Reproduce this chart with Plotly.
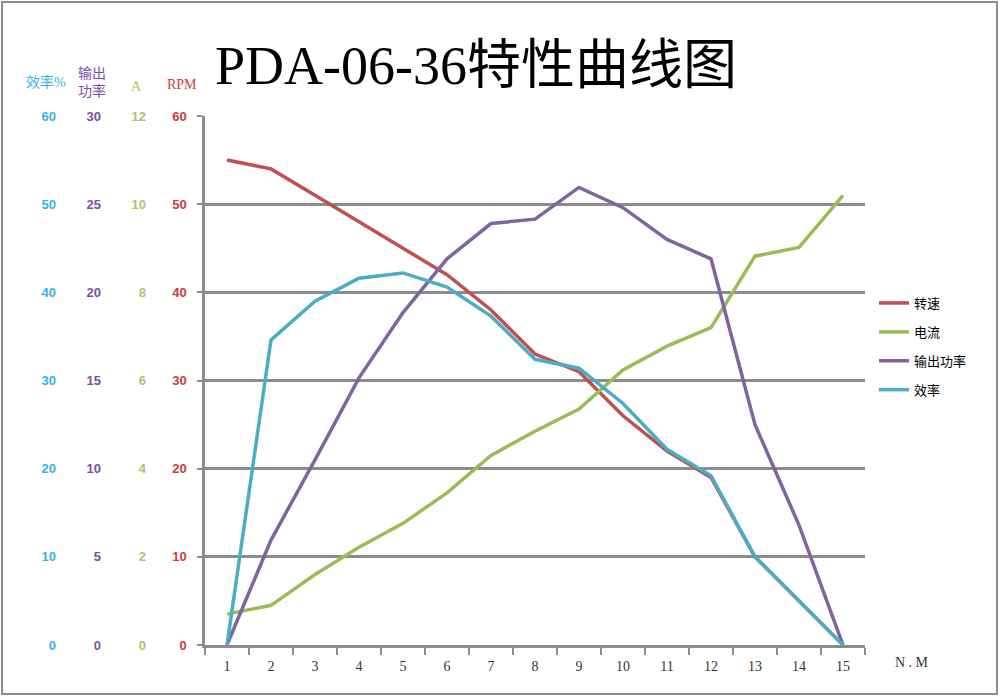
import plotly.graph_objects as go

torque = [str(i) for i in range(1, 16)]
rpm = [55.0, 54.0, 51.0, 48.0, 45.0, 42.0, 38.0, 33.0, 31.0, 26.0, 22.0, 19.0, 10.0, 5.0, 0.0]
current = [0.7, 0.9, 1.6, 2.22, 2.76, 3.45, 4.3, 4.85, 5.35, 6.24, 6.78, 7.2, 8.82, 9.02, 10.2]
power = [0.0, 5.95, 10.5, 15.15, 18.85, 21.9, 23.9, 24.15, 25.95, 24.8, 23.0, 21.9, 12.5, 6.8, 0.0]
efficiency = [0.0, 34.6, 39.0, 41.6, 42.2, 40.6, 37.3, 32.4, 31.4, 27.4, 22.2, 19.2, 10.0, 5.0, 0.0]

series_names = ["转速", "电流", "输出功率", "效率"]
line_colors = ["#C0504D", "#9BBB59", "#8064A2", "#4BACC6"]
label_colors = ["#D03A3A", "#A8C66A", "#7E4EA8", "#38B2E4"]
axis_titles = ["RPM", "A", "输出<br>功率", "效率%"]

GRID = "#8C8C8C"

fig = go.Figure()
for name, vals, col, ax, lg in zip(series_names, [rpm, current, power, efficiency], line_colors,
                                   ["y", "y2", "y3", "y4"], ["a", "b", "c", "d"]):
    fig.add_trace(go.Scatter(x=torque, y=vals, name=name, mode="lines", yaxis=ax,
                             legendgroup=lg,
                             line=dict(color=col, width=3.5)))

tickfont_base = dict(family="Liberation Sans", size=13, weight="bold")

fig.update_layout(
    width=1000, height=696,
    margin=dict(l=0, r=0, t=0, b=0),
    paper_bgcolor="white", plot_bgcolor="white",
    xaxis=dict(type="category", domain=[0.205, 0.865], tickson="boundaries",
               range=[-0.5, 14.5],
               ticks="outside", ticklen=7, tickwidth=2, tickcolor=GRID,
               showline=True, linecolor=GRID, linewidth=2.5, showgrid=False,
               ticklabelstandoff=6,
               tickfont=dict(family="Liberation Serif", size=14, color="#333"),
               automargin=False),
    yaxis=dict(range=[0, 60], dtick=10, domain=[51/696, 580/696],
               showgrid=True, gridcolor=GRID, gridwidth=2.5,
               showline=True, linecolor=GRID, linewidth=2.5, zeroline=False,
               ticks="outside", ticklen=5, tickwidth=2, tickcolor=GRID,
               ticklabelstandoff=8,
               tickfont=dict(tickfont_base, color=label_colors[0]), automargin=False),
    yaxis2=dict(range=[0, 12], dtick=2, overlaying="y", anchor="free", position=0.146,
                showgrid=False, showline=False, zeroline=False, ticks="",
                tickfont=dict(tickfont_base, color=label_colors[1]), automargin=False),
    yaxis3=dict(range=[0, 30], dtick=5, overlaying="y", anchor="free", position=0.101,
                showgrid=False, showline=False, zeroline=False, ticks="",
                tickfont=dict(tickfont_base, color=label_colors[2]), automargin=False),
    yaxis4=dict(range=[0, 60], dtick=10, overlaying="y", anchor="free", position=0.056,
                showgrid=False, showline=False, zeroline=False, ticks="",
                tickfont=dict(tickfont_base, color=label_colors[3]), automargin=False),
    legend=dict(x=0.874, y=(696 - 288) / 696, xanchor="left", yanchor="top",
                font=dict(family="Noto Sans CJK SC", size=13, color="#000"),
                tracegroupgap=9, bgcolor="rgba(0,0,0,0)", itemwidth=30),
    showlegend=True,
)

# Title
fig.add_annotation(text="PDA-06-36特性曲线图", x=0.476, y=(696 - 66) / 696, xref="paper", yref="paper",
                   showarrow=False, xanchor="center", yanchor="middle",
                   font=dict(family="Liberation Serif, Noto Sans CJK SC", size=54, color="#000"))

# Axis header labels
header_x = [182, 136, 92, 46]
header_y = [85, 86, 82, 82]
for t, c, hx, hy in zip(axis_titles, label_colors, header_x, header_y):
    fig.add_annotation(text=t, x=hx / 1000, y=(696 - hy) / 696, xref="paper", yref="paper",
                       showarrow=False, xanchor="center", yanchor="middle",
                       font=dict(family="Liberation Serif, Noto Sans CJK SC", size=14, color=c))

# X axis unit label
fig.add_annotation(text="N . M", x=912 / 1000, y=(696 - 662) / 696, xref="paper", yref="paper",
                   showarrow=False, xanchor="center", yanchor="middle",
                   font=dict(family="Liberation Serif", size=14, color="#333"))

# Outer border
fig.add_shape(type="rect", xref="paper", yref="paper", x0=0.002, x1=0.997, y0=0.003, y1=0.997,
              line=dict(color="#8C8C8C", width=2), fillcolor="rgba(0,0,0,0)", layer="below")

fig.write_html("out.html")
